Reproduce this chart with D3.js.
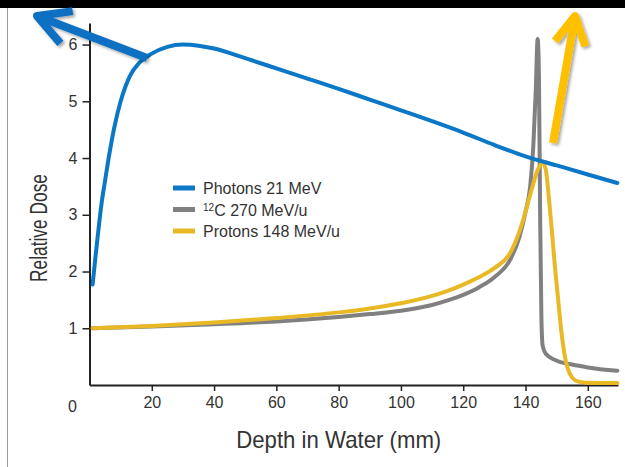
<!DOCTYPE html>
<html>
<head>
<meta charset="utf-8">
<script src="https://cdn.jsdelivr.net/npm/d3@7"></script>
<style>
  body { margin: 0; background: #fff; }
  svg { display: block; }
  text { font-family: "Liberation Sans", Arial, sans-serif; fill: #333; }
</style>
</head>
<body>
<div id="chart"></div>
<script>
// depth (mm) and relative dose
var photonDepth = [1, 2, 3, 4, 5, 6, 8, 10, 13, 16, 20, 25, 30, 35, 40, 50, 60, 70, 80, 90, 100, 110, 120, 130, 140, 150, 160, 169.5];
var photonDose  = [1.77, 2.3, 2.8, 3.25, 3.6, 3.95, 4.55, 5.0, 5.45, 5.68, 5.84, 5.96, 6.0, 5.98, 5.93, 5.76, 5.58, 5.4, 5.22, 5.03, 4.84, 4.65, 4.45, 4.23, 4.03, 3.87, 3.71, 3.56];

var carbonDepth = [1, 20, 40, 60, 80, 90, 100, 110, 115, 120, 125, 130, 135, 138, 140, 141.5, 142.5, 143.3, 143.9, 144.3, 144.7, 145.1, 145.5, 146.5, 149.5, 155, 160, 169.5];
var carbonDose  = [1.0, 1.03, 1.07, 1.12, 1.2, 1.25, 1.31, 1.41, 1.49, 1.59, 1.72, 1.9, 2.2, 2.6, 3.05, 3.5, 4.2, 5.2, 6.1, 5.5, 3.0, 1.2, 0.7, 0.55, 0.44, 0.36, 0.31, 0.25];

var protonDepth = [1, 20, 40, 60, 80, 90, 100, 110, 115, 120, 125, 130, 135, 138, 140, 142, 144, 145.5, 146.5, 147.5, 148.5, 149.5, 150.5, 151.5, 152.5, 153.5, 155, 157, 160, 169.5];
var protonDose  = [1.0, 1.04, 1.1, 1.18, 1.28, 1.35, 1.44, 1.57, 1.66, 1.77, 1.9, 2.06, 2.32, 2.7, 3.05, 3.45, 3.8, 3.91, 3.8, 3.3, 2.7, 2.05, 1.5, 0.95, 0.55, 0.3, 0.13, 0.06, 0.04, 0.035];

var xTicks = [20, 40, 60, 80, 100, 120, 140, 160];
var yTicks = [1, 2, 3, 4, 5, 6];

var seriesNames = ["Photons 21 MeV", "12C 270 MeV/u", "Protons 148 MeV/u"];
var seriesColors = ["#0a78c6", "#808080", "#e9b925"];

var W = 625, H = 467;
var margin = {top: 23, right: 7, bottom: 82, left: 89.5};
var width = W - margin.left - margin.right,
    height = H - margin.top - margin.bottom;

var svg = d3.select("#chart").append("svg")
  .attr("width", W)
  .attr("height", H);

// drop shadow used by the arrows
var defs = svg.append("defs");
var f = defs.append("filter").attr("id", "shadow")
  .attr("x", "-30%").attr("y", "-30%").attr("width", "160%").attr("height", "160%");
f.append("feDropShadow").attr("dx", 2).attr("dy", 2).attr("stdDeviation", 1.5)
  .attr("flood-color", "#000").attr("flood-opacity", 0.35);

// slide frame
svg.append("rect").attr("x", 0).attr("y", 0).attr("width", W).attr("height", 8).attr("fill", "#000");
svg.append("line").attr("x1", 7.5).attr("x2", 7.5).attr("y1", 8).attr("y2", H)
  .attr("stroke", "#9a9a9a").attr("stroke-width", 1);

var g = svg.append("g")
  .attr("transform", "translate(" + margin.left + "," + margin.top + ")");

var x = d3.scaleLinear().domain([0, 169.7]).range([0, width]);
var y = d3.scaleLinear().domain([0, 6.38]).range([height, 0]);

// axes
var xAxis = g.append("g")
  .attr("transform", "translate(0," + height + ")")
  .call(d3.axisBottom(x).tickValues(xTicks).tickSize(6).tickPadding(6).tickSizeOuter(0));
var yAxis = g.append("g")
  .call(d3.axisLeft(y).tickValues(yTicks).tickFormat(d3.format("d")).tickSize(7).tickPadding(5).tickSizeOuter(0));

[xAxis, yAxis].forEach(function(a) {
  a.attr("font-family", null);
  a.select(".domain").attr("stroke", "#222").attr("stroke-width", 2);
  a.selectAll(".tick line").attr("stroke", "#222").attr("stroke-width", 1.5);
  a.selectAll(".tick text").style("font-size", "16px").attr("fill", "#333");
});

// origin label
g.append("text")
  .attr("x", -17).attr("y", height + 27)
  .attr("text-anchor", "middle")
  .style("font-size", "16px")
  .text("0");

// axis titles
g.append("text")
  .attr("x", width / 2 - 15).attr("y", height + 63)
  .attr("text-anchor", "middle")
  .attr("textLength", 205).attr("lengthAdjust", "spacingAndGlyphs")
  .style("font-size", "24px")
  .text("Depth in Water (mm)");

svg.append("text")
  .attr("transform", "translate(47,228)rotate(-90)")
  .attr("text-anchor", "middle")
  .attr("textLength", 108).attr("lengthAdjust", "spacingAndGlyphs")
  .style("font-size", "23px")
  .text("Relative Dose");

// curves
var line = d3.line()
  .x(function(d) { return x(d[0]); })
  .y(function(d) { return y(d[1]); })
  .curve(d3.curveMonotoneX);

var series = [
  d3.zip(photonDepth, photonDose),
  d3.zip(carbonDepth, carbonDose),
  d3.zip(protonDepth, protonDose)
];

[1, 2, 0].forEach(function(i) {
  g.append("path")
    .datum(series[i])
    .attr("fill", "none")
    .attr("stroke", seriesColors[i])
    .attr("stroke-width", 4)
    .attr("stroke-linejoin", "round")
    .attr("stroke-linecap", "round")
    .attr("d", line);
});

// legend
var legend = svg.append("g").attr("transform", "translate(173,188)");
seriesNames.forEach(function(name, i) {
  var row = legend.append("g").attr("transform", "translate(0," + (i * 21.5) + ")");
  row.append("line")
    .attr("x1", 0).attr("x2", 22).attr("y1", 0).attr("y2", 0)
    .attr("stroke", seriesColors[i]).attr("stroke-width", 5);
  var t = row.append("text")
    .attr("x", 30).attr("y", 6)
    .style("font-size", "16px");
  if (name.indexOf("12C") === 0) {
    t.append("tspan").attr("dy", -5).style("font-size", "10px").text("12");
    t.append("tspan").attr("dy", 5).text(name.slice(2));
  } else {
    t.text(name);
  }
});

// annotation arrows
function arrow(x1, y1, x2, y2, color, w, head, spread) {
  var a = Math.atan2(y2 - y1, x2 - x1);
  var ag = svg.append("g").attr("filter", "url(#shadow)")
    .attr("stroke", color).attr("stroke-width", w).attr("stroke-linecap", "round")
    .attr("stroke-linejoin", "round").attr("fill", "none");
  var p = d3.path();
  p.moveTo(x1, y1); p.lineTo(x2, y2);
  p.moveTo(x2 - head * Math.cos(a - spread), y2 - head * Math.sin(a - spread));
  p.lineTo(x2, y2);
  p.lineTo(x2 - head * Math.cos(a + spread), y2 - head * Math.sin(a + spread));
  ag.append("path").attr("d", p.toString()).attr("stroke-linecap", "butt");
}
arrow(147, 58, 37, 16, "#0a6fc2", 8, 36, 0.5);
arrow(553, 143, 575, 16, "#ffc000", 8, 32, 0.5);
</script>
</body>
</html>
